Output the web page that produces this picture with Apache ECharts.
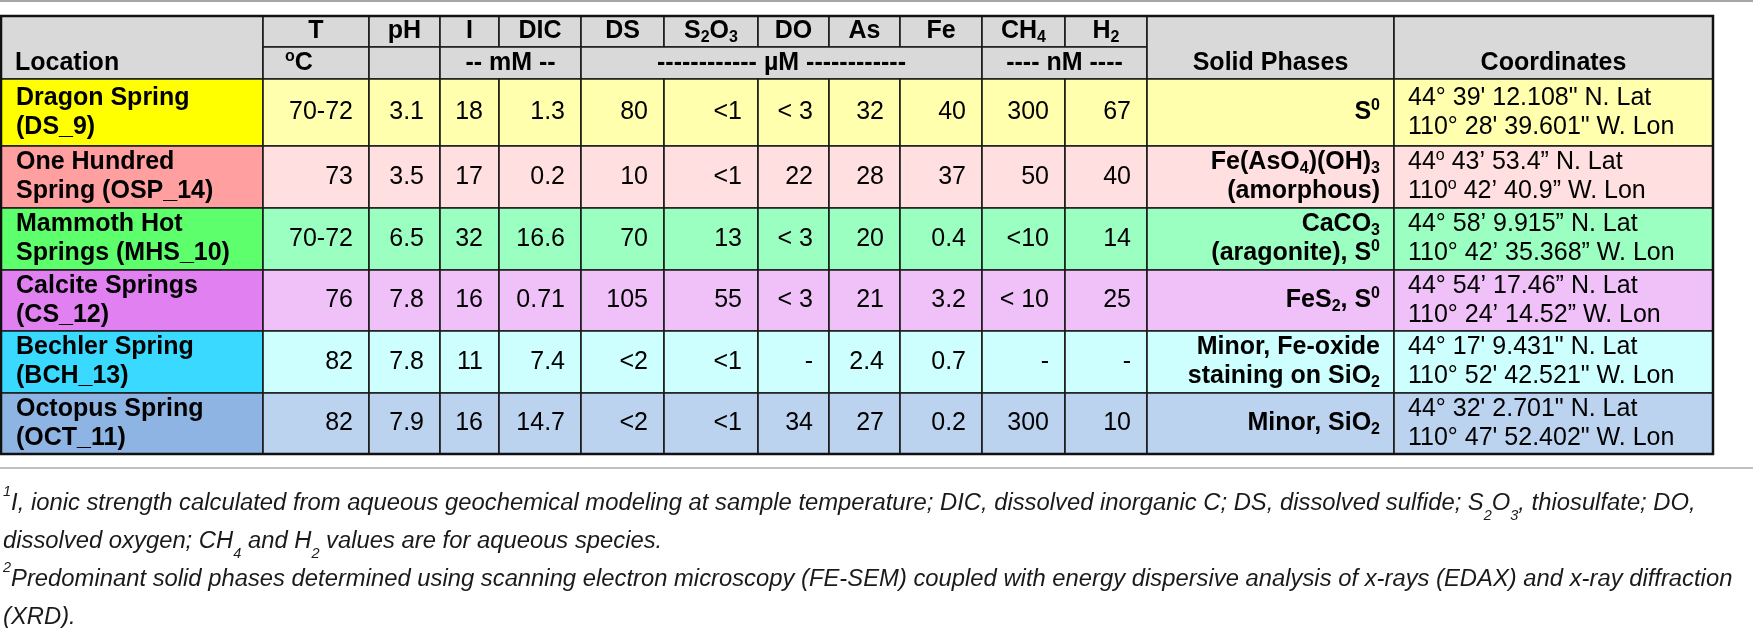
<!DOCTYPE html>
<html>
<head>
<meta charset="utf-8">
<script src="https://cdn.jsdelivr.net/npm/echarts@6/dist/echarts.min.js"></script>
<style>
html, body { margin: 0; padding: 0; background: #fff; }
#main { width: 1753px; height: 628px; }
</style>
</head>
<body>
<div id="main"></div>
<script>
// 表头
var headerTop = ['T', 'pH', 'I', 'DIC', 'DS', 'S{bsub|2}O{bsub|3}', 'DO', 'As', 'Fe', 'CH{bsub|4}', 'H{bsub|2}'];
var unitLabels = ['{bsup|o}C', '', '-- mM --', '------------ µM ------------', '---- nM ----'];

// 各采样点数据
var locations = ['Dragon Spring\n(DS_9)', 'One Hundred\nSpring (OSP_14)', 'Mammoth Hot\nSprings (MHS_10)',
    'Calcite Springs\n(CS_12)', 'Bechler Spring\n(BCH_13)', 'Octopus Spring\n(OCT_11)'];
var temperature = ['70-72', '73', '70-72', '76', '82', '82'];
var pH = ['3.1', '3.5', '6.5', '7.8', '7.8', '7.9'];
var ionic = ['18', '17', '32', '16', '11', '16'];
var dic = ['1.3', '0.2', '16.6', '0.71', '7.4', '14.7'];
var ds = ['80', '10', '70', '105', '<2', '<2'];
var s2o3 = ['<1', '<1', '13', '55', '<1', '<1'];
var dox = ['< 3', '22', '< 3', '< 3', '-', '34'];
var arsenic = ['32', '28', '20', '21', '2.4', '27'];
var iron = ['40', '37', '0.4', '3.2', '0.7', '0.2'];
var ch4 = ['300', '50', '<10', '< 10', '-', '300'];
var h2 = ['67', '40', '14', '25', '-', '10'];
var solidPhases = ['S{bsup|0}', 'Fe(AsO{bsub|4})(OH){bsub|3}\n(amorphous)', 'CaCO{bsub|3}\n(aragonite), S{bsup|0}',
    'FeS{bsub|2}, S{bsup|0}', 'Minor, Fe-oxide\nstaining on SiO{bsub|2}', 'Minor, SiO{bsub|2}'];
var coordinates = [
    '44° 39\' 12.108" N. Lat\n110° 28\' 39.601" W. Lon',
    '44{sup|o} 43’ 53.4” N. Lat\n110{sup|o} 42’ 40.9” W. Lon',
    '44° 58’ 9.915” N. Lat\n110° 42’ 35.368” W. Lon',
    '44° 54’ 17.46” N. Lat\n110° 24’ 14.52” W. Lon',
    '44° 17\' 9.431" N. Lat\n110° 52\' 42.521" W. Lon',
    '44° 32\' 2.701" N. Lat\n110° 47\' 52.402" W. Lon'
];
var footnotes = [
    '{isup|1}I, ionic strength calculated from aqueous geochemical modeling at sample temperature; DIC, dissolved inorganic C; DS, dissolved sulfide; S{isub|2}O{isub|3}, thiosulfate; DO,\ndissolved oxygen; CH{isub|4} and H{isub|2} values are for aqueous species.',
    '{isup|2}Predominant solid phases determined using scanning electron microscopy (FE-SEM) coupled with energy dispersive analysis of x-rays (EDAX) and x-ray diffraction\n(XRD).'
];

// 颜色
var locColors = ['#ffff00', '#ff9f9f', '#5dff6d', '#e181f1', '#3ad9ff', '#8eb4e3'];
var rowColors = ['#ffffae', '#ffdfdf', '#9affc0', '#f0c0f8', '#ceffff', '#bbd3ef'];
var HEAD = '#d9d9d9';

// 版面: 列边界和行边界(像素)
var colEdges = [1, 263, 369, 440, 499, 581, 664, 758, 829, 900, 982, 1065, 1147, 1394, 1713];
var rowEdges = [16, 47, 79, 146, 208, 270, 331, 393, 454];
var unitSpans = [[1, 2], [2, 3], [3, 5], [5, 10], [10, 12]];

var FONT = '"Liberation Sans", Arial, sans-serif';
var rich = {
    bsub: { font: 'bold 16px ' + FONT, verticalAlign: 'bottom' },
    bsup: { font: 'bold 16px ' + FONT, verticalAlign: 'top' },
    sup: { font: '16px ' + FONT, verticalAlign: 'top' },
    isub: { font: 'italic 14px ' + FONT, verticalAlign: 'bottom' },
    isup: { font: 'italic 14px ' + FONT, verticalAlign: 'top' }
};

var cells = [];
function addCell(c0, c1, r0, r1, fill, text, opt) {
    var c = { c0: c0, c1: c1, r0: r0, r1: r1, fill: fill, text: text, align: 'center', bold: false };
    for (var k in opt) c[k] = opt[k];
    cells.push(c);
}

addCell(0, 1, 0, 2, HEAD, 'Location', { align: 'left', bold: true, lowRow: true });
headerTop.forEach(function (t, i) {
    addCell(i + 1, i + 2, 0, 1, HEAD, t, { bold: true });
});
unitLabels.forEach(function (t, i) {
    var sp = unitSpans[i];
    addCell(sp[0], sp[1], 1, 2, HEAD, t, i === 0 ? { bold: true, align: 'left', pad: 22 } : { bold: true });
});
addCell(12, 13, 0, 2, HEAD, 'Solid Phases', { bold: true, lowRow: true });
addCell(13, 14, 0, 2, HEAD, 'Coordinates', { bold: true, lowRow: true });

var valueCols = [temperature, pH, ionic, dic, ds, s2o3, dox, arsenic, iron, ch4, h2];
for (var r = 0; r < locations.length; r++) {
    addCell(0, 1, r + 2, r + 3, locColors[r], locations[r], { align: 'left', bold: true, pad: 15 });
    for (var j = 0; j < valueCols.length; j++) {
        addCell(j + 1, j + 2, r + 2, r + 3, rowColors[r], valueCols[j][r], { align: 'right', pad: 16 });
    }
    addCell(12, 13, r + 2, r + 3, rowColors[r], solidPhases[r], { align: 'right', bold: true, pad: 14 });
    addCell(13, 14, r + 2, r + 3, rowColors[r], coordinates[r], { align: 'left', pad: 14 });
}
addCell(0, 14, 0, 8, null, '', { frame: true });

function renderItem(params, api) {
    var c = cells[params.dataIndex];
    var p0 = api.coord([api.value(0), api.value(1)]);
    var p1 = api.coord([api.value(2), api.value(3)]);
    var x = p0[0], y = p0[1], w = p1[0] - x, h = p1[1] - y;
    if (c.frame) {
        return { type: 'rect', shape: { x: x, y: y, width: w, height: h },
            style: { fill: null, stroke: '#111', lineWidth: 2.5 } };
    }
    var tx = x + w / 2;
    if (c.align === 'left') tx = x + (c.pad || 14);
    if (c.align === 'right') tx = x + w - (c.pad || 16);
    var ty = y + h / 2;
    if (c.lowRow) {
        var a = api.coord([0, rowEdges[1]])[1], b = api.coord([0, rowEdges[2]])[1];
        ty = (a + b) / 2;
    }
    return {
        type: 'group',
        children: [
            { type: 'rect', shape: { x: x, y: y, width: w, height: h },
              style: { fill: c.fill, stroke: '#1a1a1a', lineWidth: 1.6 } },
            { type: 'text', x: tx, y: ty,
              style: { text: c.text, fill: '#000', font: (c.bold ? 'bold ' : '') + '25px ' + FONT,
                       align: c.align, verticalAlign: 'middle', lineHeight: 29, rich: rich } }
        ]
    };
}

var myChart = echarts.init(document.getElementById('main'), null, { renderer: 'canvas' });
var option = {
    animation: false,
    grid: { left: 0, right: 0, top: 0, bottom: 0 },
    xAxis: { type: 'value', min: 0, max: 1753, show: false },
    yAxis: { type: 'value', min: 0, max: 628, inverse: true, show: false },
    series: [{
        type: 'custom',
        renderItem: renderItem,
        encode: { x: [0, 2], y: [1, 3] },
        data: cells.map(function (c) {
            return [colEdges[c.c0], rowEdges[c.r0], colEdges[c.c1], rowEdges[c.r1]];
        })
    }],
    graphic: [
        { type: 'line', shape: { x1: 0, y1: 1, x2: 1753, y2: 1 }, style: { stroke: '#a6a6a6', lineWidth: 2 } },
        { type: 'line', shape: { x1: 0, y1: 468, x2: 1753, y2: 468 }, style: { stroke: '#c0c0c0', lineWidth: 2 } },
        { type: 'text', x: 3, y: 485, scaleX: 1.035,
          style: { text: footnotes.join('\n'), font: 'italic 23px ' + FONT, fill: '#1a1a1a',
                   lineHeight: 38, verticalAlign: 'top', rich: rich } }
    ]
};
myChart.setOption(option);
</script>
</body>
</html>
